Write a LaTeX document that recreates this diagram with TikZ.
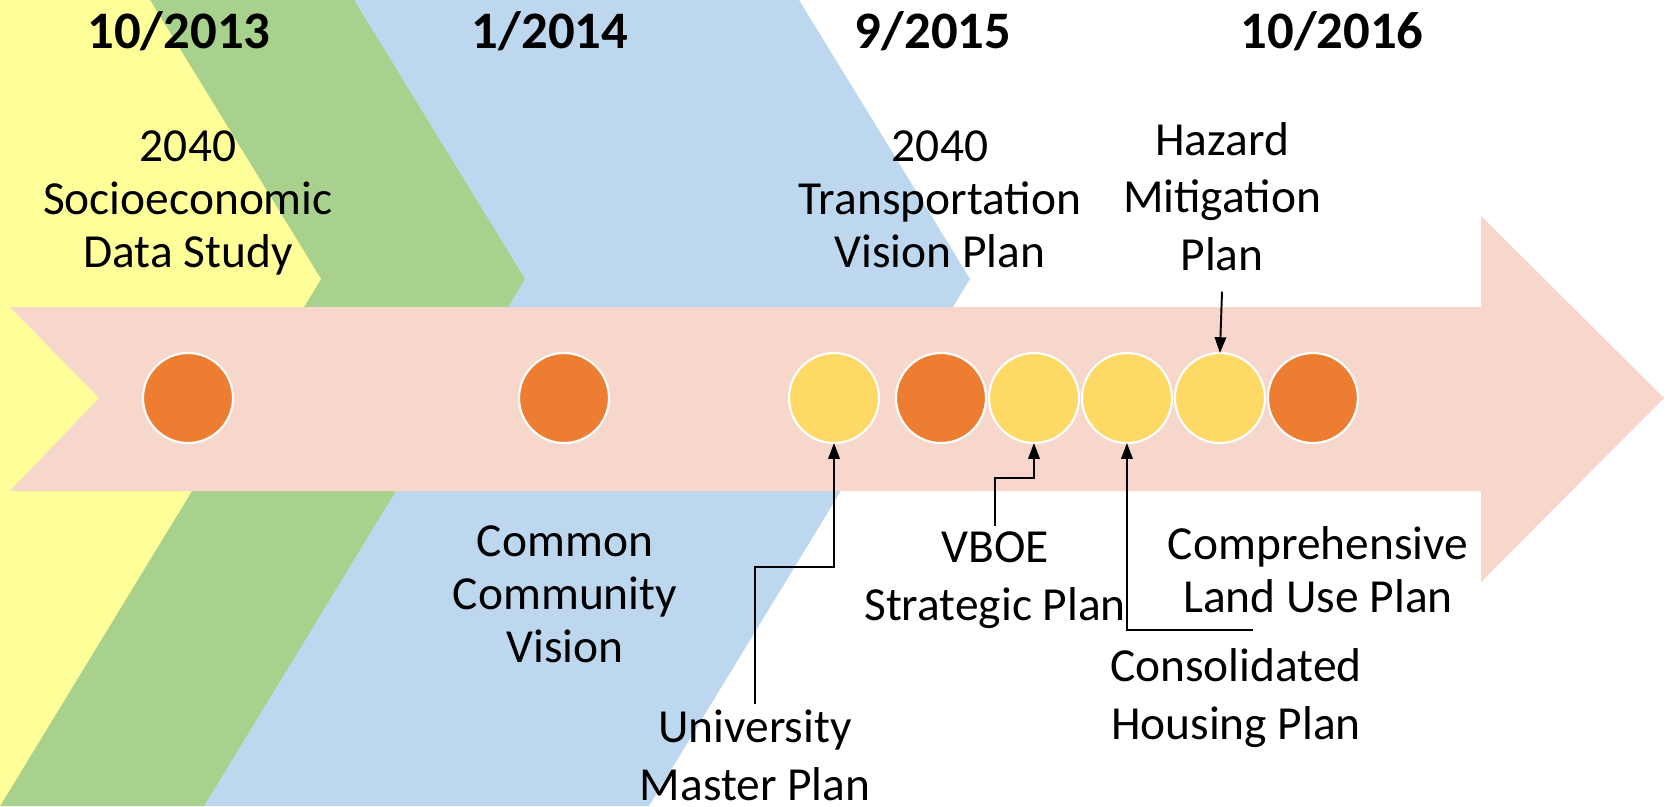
\documentclass[tikz,border=0pt]{standalone}
\usepackage{fontspec}
\setmainfont{Carlito}
\usetikzlibrary{arrows.meta,positioning}

\definecolor{chevYellow}{HTML}{FFFF99}
\definecolor{chevGreen}{HTML}{A9D18E}
\definecolor{chevBlue}{HTML}{BDD7EE}
\definecolor{bandPink}{HTML}{F7D7CC}
\definecolor{dotOrange}{HTML}{ED7D31}
\definecolor{dotGold}{HTML}{FFD966}

\begin{document}
\begin{tikzpicture}[x=0.02cm, y=-0.02cm, >={Triangle[length=9pt,width=6.5pt]},
    event/.style={circle, draw=white, line width=1.2pt, minimum size=1.8cm, inner sep=0pt, outer sep=0pt},
    done/.style={event, fill=dotOrange},
    todo/.style={event, fill=dotGold},
    date/.style={font=\fontsize{30}{36}\selectfont\bfseries, anchor=base},
    lbl/.style={font=\fontsize{27}{30}\selectfont, align=center, anchor=base},
    lblwide/.style={font=\fontsize{27}{32.5}\selectfont, align=center, anchor=base},
    link/.style={->, line width=1.1pt}]
    \useasboundingbox (0,0) rectangle (1675,806);

    % Chevrons
    \fill [chevBlue]   (0,0) -- (799,0) -- (970,279) -- (649,806) -- (0,806) -- cycle;
    \fill [chevGreen]  (0,0) -- (354,0) -- (525,279) -- (204,806) -- (0,806) -- cycle;
    \fill [chevYellow] (0,0) -- (150,0) -- (321,279) -- (0,806) -- cycle;

    % Arrow band
    \fill [bandPink] (10,307) -- (1481,307) -- (1481,216) -- (1664,398) -- (1481,582)
        -- (1481,491) -- (10,491) -- (99,398) -- cycle;

    % Nodes {c1, c2, ..., c8}
    \node [done] (c1) at (188,398) {};
    \node [done] (c2) at (564,398) {};
    \node [todo] (c3) at (834,398) {};
    \node [done] (c4) [right=0.34cm of c3] {};
    \node [todo] (c5) [right=0.06cm of c4] {};
    \node [todo] (c6) [right=0.06cm of c5] {};
    \node [todo] (c7) [right=0.06cm of c6] {};
    \node [done] (c8) [right=0.06cm of c7] {};

    % Dates
    \node [date] (d1) at (179,48)  {10/2013};
    \node [date] (d2) at (550,48)  {1/2014};
    \node [date] (d3) at (933,48)  {9/2015};
    \node [date] (d4) at (1332,48) {10/2016};

    % Labels (placed at the baseline of their last line)
    \node [lbl]     (socio)  at (188,267)  {2040\\Socioeconomic\\Data Study};
    \node [lbl]     (trans)  at (940,267)  {2040\\Transportation\\Vision Plan};
    \node [lblwide] (hazard) at (1222,270) {Hazard\\Mitigation\\Plan};
    \node [lbl]     (common) at (565,662)  {Common\\Community\\Vision};
    \node [lblwide] (univ)   at (755,800)  {University\\Master Plan};
    \node [lblwide] (vboe)   at (995,620)  {VBOE\\Strategic Plan};
    \node [lbl]     (compr)  at (1318,612) {Comprehensive\\Land Use Plan};
    \node [lblwide] (cons)   at (1236,739) {Consolidated\\Housing Plan};

    % Paths
    \draw [link] (univ.north) -- (univ.north |- 0,567) -| (c3.south);
    \draw [link] (vboe.north) -- (vboe.north |- 0,478) -| (c5.south);
    \draw [link] ([xshift=0.34cm,yshift=0.26cm]cons.north) -| (c6.south);
    \draw [link] ([yshift=-0.3cm]hazard.south) -- (c7.north);
\end{tikzpicture}
\end{document}
